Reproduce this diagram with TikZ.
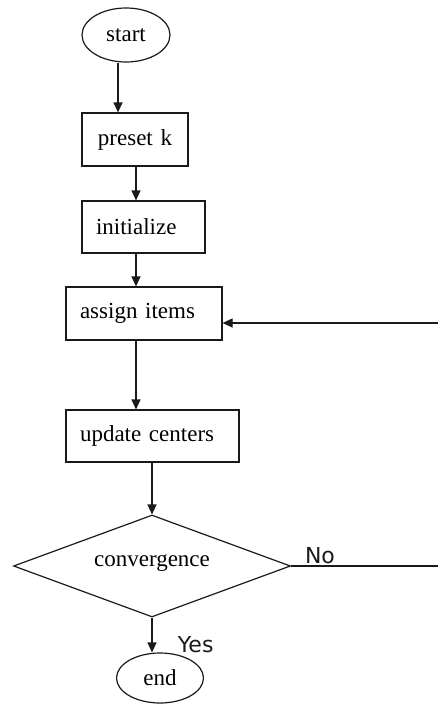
\documentclass[tikz,border=0pt]{standalone}
\usepackage{fontspec}
\setmainfont{Liberation Serif}
\newfontfamily\labelfont{DejaVu Sans}
\usepackage{xcolor}
\usepackage{tikz}
\usetikzlibrary{
  shapes.geometric,
  arrows.meta,
  positioning,
  calc
}
\definecolor{lineColor}{HTML}{1A1A1A}
\tikzset{
  base/.style={
    draw=lineColor, line width=1.2pt,
    font=\fontsize{23}{27}\selectfont,
    inner sep=0pt
  },
  term node/.style={base, ellipse},
  proc node/.style={base, rectangle, inner xsep=14pt, align=left},
  dec node/.style={base, diamond, aspect=2.7, text depth=10pt},
  flow/.style={-{Triangle[length=10pt,width=9pt]}, lineColor, line width=1.2pt},
  plain/.style={lineColor, line width=1.2pt},
  branch/.style={font=\labelfont\fontsize{22}{26}\selectfont}
}

\begin{document}
\begin{tikzpicture}[x=1pt, y=-1pt]
    \useasboundingbox (0,0) rectangle (438,704);
    % Nodes
    \node[term node, minimum width=88pt, minimum height=54pt] (start) at (126,35) {start};
    \node[proc node, align=center, text width=78pt, minimum height=53pt] (preset) at (135,139.5) {preset k};
    \node[proc node, text width=95pt, minimum height=52pt] (init) at (143.5,227) {initialize};
    \node[proc node, text width=128pt, minimum height=53pt] (assign) at (144,313.5) {assign items};
    \node[proc node, text width=145pt, minimum height=52pt] (update) at (152.5,436) {update centers};
    \node[dec node, minimum width=277pt, minimum height=102pt] (conv) at (152,566) {convergence};
    \node[term node, minimum width=87pt, minimum height=50pt] (end) at (160,678) {end};
    \coordinate (noend) at (438,566);
    \coordinate (loop) at (438,323);

    % Arrows
    \draw[flow] ([xshift=-8pt]start.south) -- ([xshift=-17pt]preset.north);
    \draw[flow] ([xshift=1pt]preset.south) -- ([xshift=1pt]preset.south |- init.north);
    \draw[flow] ([xshift=-7.5pt]init.south) -- ([xshift=-8pt]assign.north);
    \draw[flow] ([xshift=-8pt]assign.south) -- ([xshift=-16.5pt]update.north);
    \draw[flow] (update.south -| conv.north) -- (conv.north);
    \draw[flow] (conv.south) -- (conv.south |- end.north)
      node[branch, pos=0.78, right=22pt] {Yes};
    \draw[plain] (conv.east) -- (noend)
      node[branch, pos=0, above right=-2pt and 10pt] {No};
    \draw[flow] (loop) -- (loop -| assign.east);
  \end{tikzpicture}
\end{document}
